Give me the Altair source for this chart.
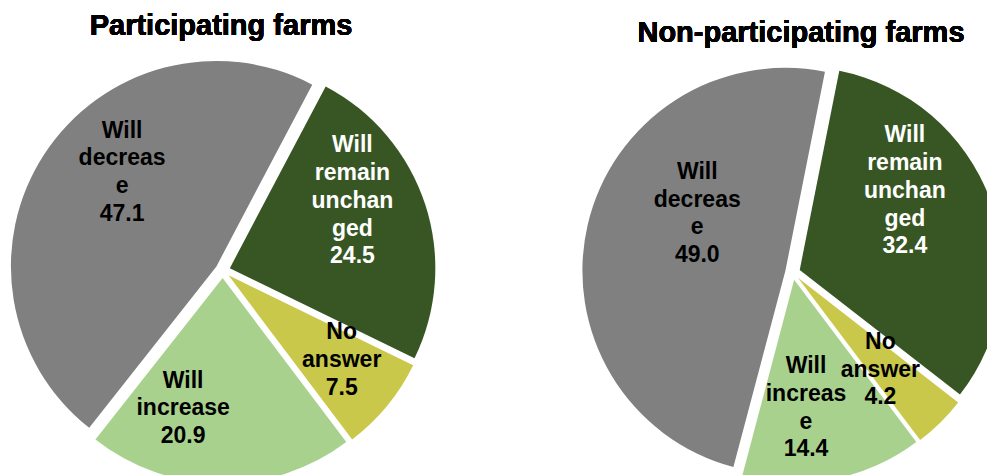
import altair as alt
import pandas as pd

# ---- data ----
panels = ["Participating farms", "Non-participating farms"]
categories = ["Will increase", "Will decrease", "Will remain unchanged", "No answer"]
participating = [20.9, 47.1, 24.5, 7.5]
non_participating = [14.4, 49.0, 32.4, 4.2]
labels_participating = ["Will\nincrease", "Will\ndecreas\ne", "Will\nremain\nunchan\nged", "No\nanswer"]
labels_non_participating = ["Will\nincreas\ne", "Will\ndecreas\ne", "Will\nremain\nunchan\nged", "No\nanswer"]

# ---- style / layout ----
colors = ["#A9D18E", "#808080", "#375623", "#C9C84B"]
label_colors = ["#000000", "#000000", "#FFFFFF", "#000000"]
centers_x = [222.7, 792.7]
centers_y = [270.5, 272.5]
radii = [205.5, 203.0]
title_x = [221, 801]
title_y = [35, 42]
# label nudges (best-fit placement), per panel, in category order
label_dx = [[-38, 20, -7, 8], [-14, 43, -21, -12]]
label_dy = [[-6, -20, -25, -2], [-4, -27, -32, -4]]
START_DEG = 143.0
EXPLODE = 7.5
LABEL_R = 0.7
LINE_H = 27.7
FONT = "Liberation Sans"

rows = []
for p, (vals, labs) in enumerate([(participating, labels_participating),
                                  (non_participating, labels_non_participating)]):
    for i, (c, v, l) in enumerate(zip(categories, vals, labs)):
        rows.append(dict(panel=panels[p], category=c, value=v, label=l, order=i,
                         cx=centers_x[p], cy=centers_y[p], r=radii[p],
                         ldx=label_dx[p][i], ldy=label_dy[p][i],
                         lcolor=label_colors[i]))
df = pd.DataFrame(rows)

start = START_DEG * 3.141592653589793 / 180

base = alt.Chart(df).transform_joinaggregate(
    total="sum(value)", groupby=["panel"]
).transform_window(
    cum="sum(value)", sort=[alt.SortField("order")], groupby=["panel"], frame=[None, 0]
).transform_calculate(
    a0=f"{start} + 2*PI*(datum.cum - datum.value)/datum.total",
    a1=f"{start} + 2*PI*datum.cum/datum.total",
    txt="datum.label + '\\n' + format(datum.value, '.1f')",
).transform_calculate(
    mid="(datum.a0 + datum.a1)/2",
    nlines="length(split(datum.txt, '\\n'))",
).transform_calculate(
    px=f"datum.cx + {EXPLODE}*sin(datum.mid)",
    py=f"datum.cy - {EXPLODE}*cos(datum.mid)",
    lx=f"datum.cx + {LABEL_R}*datum.r*sin(datum.mid) + datum.ldx",
    ly=f"datum.cy - {LABEL_R}*datum.r*cos(datum.mid) + datum.ldy - (datum.nlines - 1)*{LINE_H}/2",
)

arcs = base.mark_arc(clip=True).encode(
    x=alt.X("px:Q", scale=None, axis=None),
    y=alt.Y("py:Q", scale=None, axis=None),
    theta=alt.Theta("a0:Q", scale=None, stack=None),
    theta2="a1:Q",
    radius=alt.Radius("r:Q", scale=None),
    color=alt.Color("category:N", scale=alt.Scale(domain=categories, range=colors), legend=None),
)

labels = base.mark_text(
    font=FONT, fontSize=23, fontWeight="bold", lineBreak="\n", lineHeight=LINE_H,
    align="center", baseline="middle",
).encode(
    x=alt.X("lx:Q", scale=None, axis=None),
    y=alt.Y("ly:Q", scale=None, axis=None),
    text="txt:N",
    color=alt.Color("lcolor:N", scale=None),
)

titles = []
for t, tx, ty in zip(panels, title_x, title_y):
    titles.append(
        alt.Chart(df).mark_text(
            font=FONT, fontSize=29, fontWeight="bold", align="center",
            baseline="alphabetic", color="#000000",
        ).encode(x=alt.value(tx), y=alt.value(ty), text=alt.value(t))
    )

chart = alt.layer(arcs, labels, *titles).properties(
    width=987, height=475,
    autosize=alt.AutoSizeParams(type="none"),
    padding=0,
    background="#FFFFFF",
).configure_view(stroke=None)

chart.save("out.html", embed_options={"renderer": "svg", "actions": False})
